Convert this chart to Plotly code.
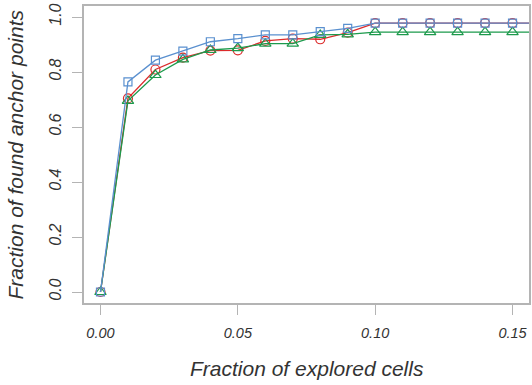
import plotly.graph_objects as go

x_vals = [0.00, 0.01, 0.02, 0.03, 0.04, 0.05, 0.06, 0.07, 0.08, 0.09, 0.10, 0.11, 0.12, 0.13, 0.14, 0.15, 0.16]
red_vals = [0.0, 0.704, 0.809, 0.852, 0.878, 0.879, 0.913, 0.921, 0.919, 0.943, 0.978, 0.978, 0.978, 0.978, 0.978, 0.978, 0.978]
green_vals = [0.0, 0.695, 0.789, 0.846, 0.880, 0.887, 0.903, 0.903, 0.935, 0.937, 0.945, 0.945, 0.945, 0.945, 0.945, 0.945, 0.945]
blue_vals = [0.0, 0.764, 0.843, 0.876, 0.910, 0.921, 0.935, 0.935, 0.947, 0.959, 0.978, 0.978, 0.978, 0.978, 0.978, 0.978, 0.978]

x_ticks = [0.0, 0.05, 0.10, 0.15]
x_tick_labels = ["0.00", "0.05", "0.10", "0.15"]
y_ticks = [0.0, 0.2, 0.4, 0.6, 0.8, 1.0]
y_tick_labels = ["0.0", "0.2", "0.4", "0.6", "0.8", "1.0"]

RED = "#dc2b2b"
GREEN = "#1c9a4c"
BLUE = "#5a90cf"
GRID = "#b4b4b4"
TXT = "#333333"
FONT = "Liberation Sans"

fig = go.Figure()
fig.add_trace(go.Scatter(x=x_vals, y=red_vals, mode="lines+markers",
                         line=dict(color=RED, width=1.3),
                         marker=dict(symbol="circle-open", size=9, color=RED, line=dict(width=1.2))))
fig.add_trace(go.Scatter(x=x_vals, y=green_vals, mode="lines+markers",
                         line=dict(color=GREEN, width=1.3),
                         marker=dict(symbol="triangle-up-open", size=10, color=GREEN, line=dict(width=1.2))))
fig.add_trace(go.Scatter(x=x_vals, y=blue_vals, mode="lines+markers",
                         line=dict(color=BLUE, width=1.3),
                         marker=dict(symbol="square-open", size=8, color=BLUE, line=dict(width=1.2))))

fig.update_layout(
    width=532, height=385,
    margin=dict(l=84, r=1, t=6, b=82),
    paper_bgcolor="white", plot_bgcolor="white",
    showlegend=False,
    font=dict(family=FONT, color=TXT),
    xaxis=dict(range=[-0.006, 0.156], tickvals=x_ticks, ticktext=x_tick_labels,
               showgrid=False, zeroline=False, showline=True, mirror=True,
               linecolor=GRID, linewidth=1.5, ticks="outside", ticklen=10, tickcolor=GRID,
               tickwidth=1.2, ticklabelstandoff=6,
               tickfont=dict(family=FONT, size=14.5, color=TXT, style="italic")),
    yaxis=dict(range=[-0.04, 1.04], tickvals=y_ticks, ticktext=y_tick_labels,
               showgrid=False, zeroline=False, showline=True, mirror=True,
               linecolor=GRID, linewidth=1.5, ticks="outside", ticklen=10, tickcolor=GRID,
               tickwidth=1.2, tickangle=-90, ticklabelstandoff=5,
               tickfont=dict(family=FONT, size=16, color=TXT, style="italic")),
    annotations=[
        dict(text="Fraction of explored cells", xref="paper", yref="paper",
             x=0.5, y=-0.219, xanchor="center", yanchor="middle", showarrow=False,
             font=dict(family=FONT, size=21, color=TXT, style="italic")),
        dict(text="Fraction of found anchor points", xref="paper", yref="paper",
             x=-0.155, y=0.5, xanchor="center", yanchor="middle", showarrow=False,
             textangle=-90,
             font=dict(family=FONT, size=21, color=TXT, style="italic")),
    ],
)

fig.write_html("out.html", config={"displayModeBar": False},
               post_script="document.body.style.margin='0';document.body.style.overflow='hidden';")
